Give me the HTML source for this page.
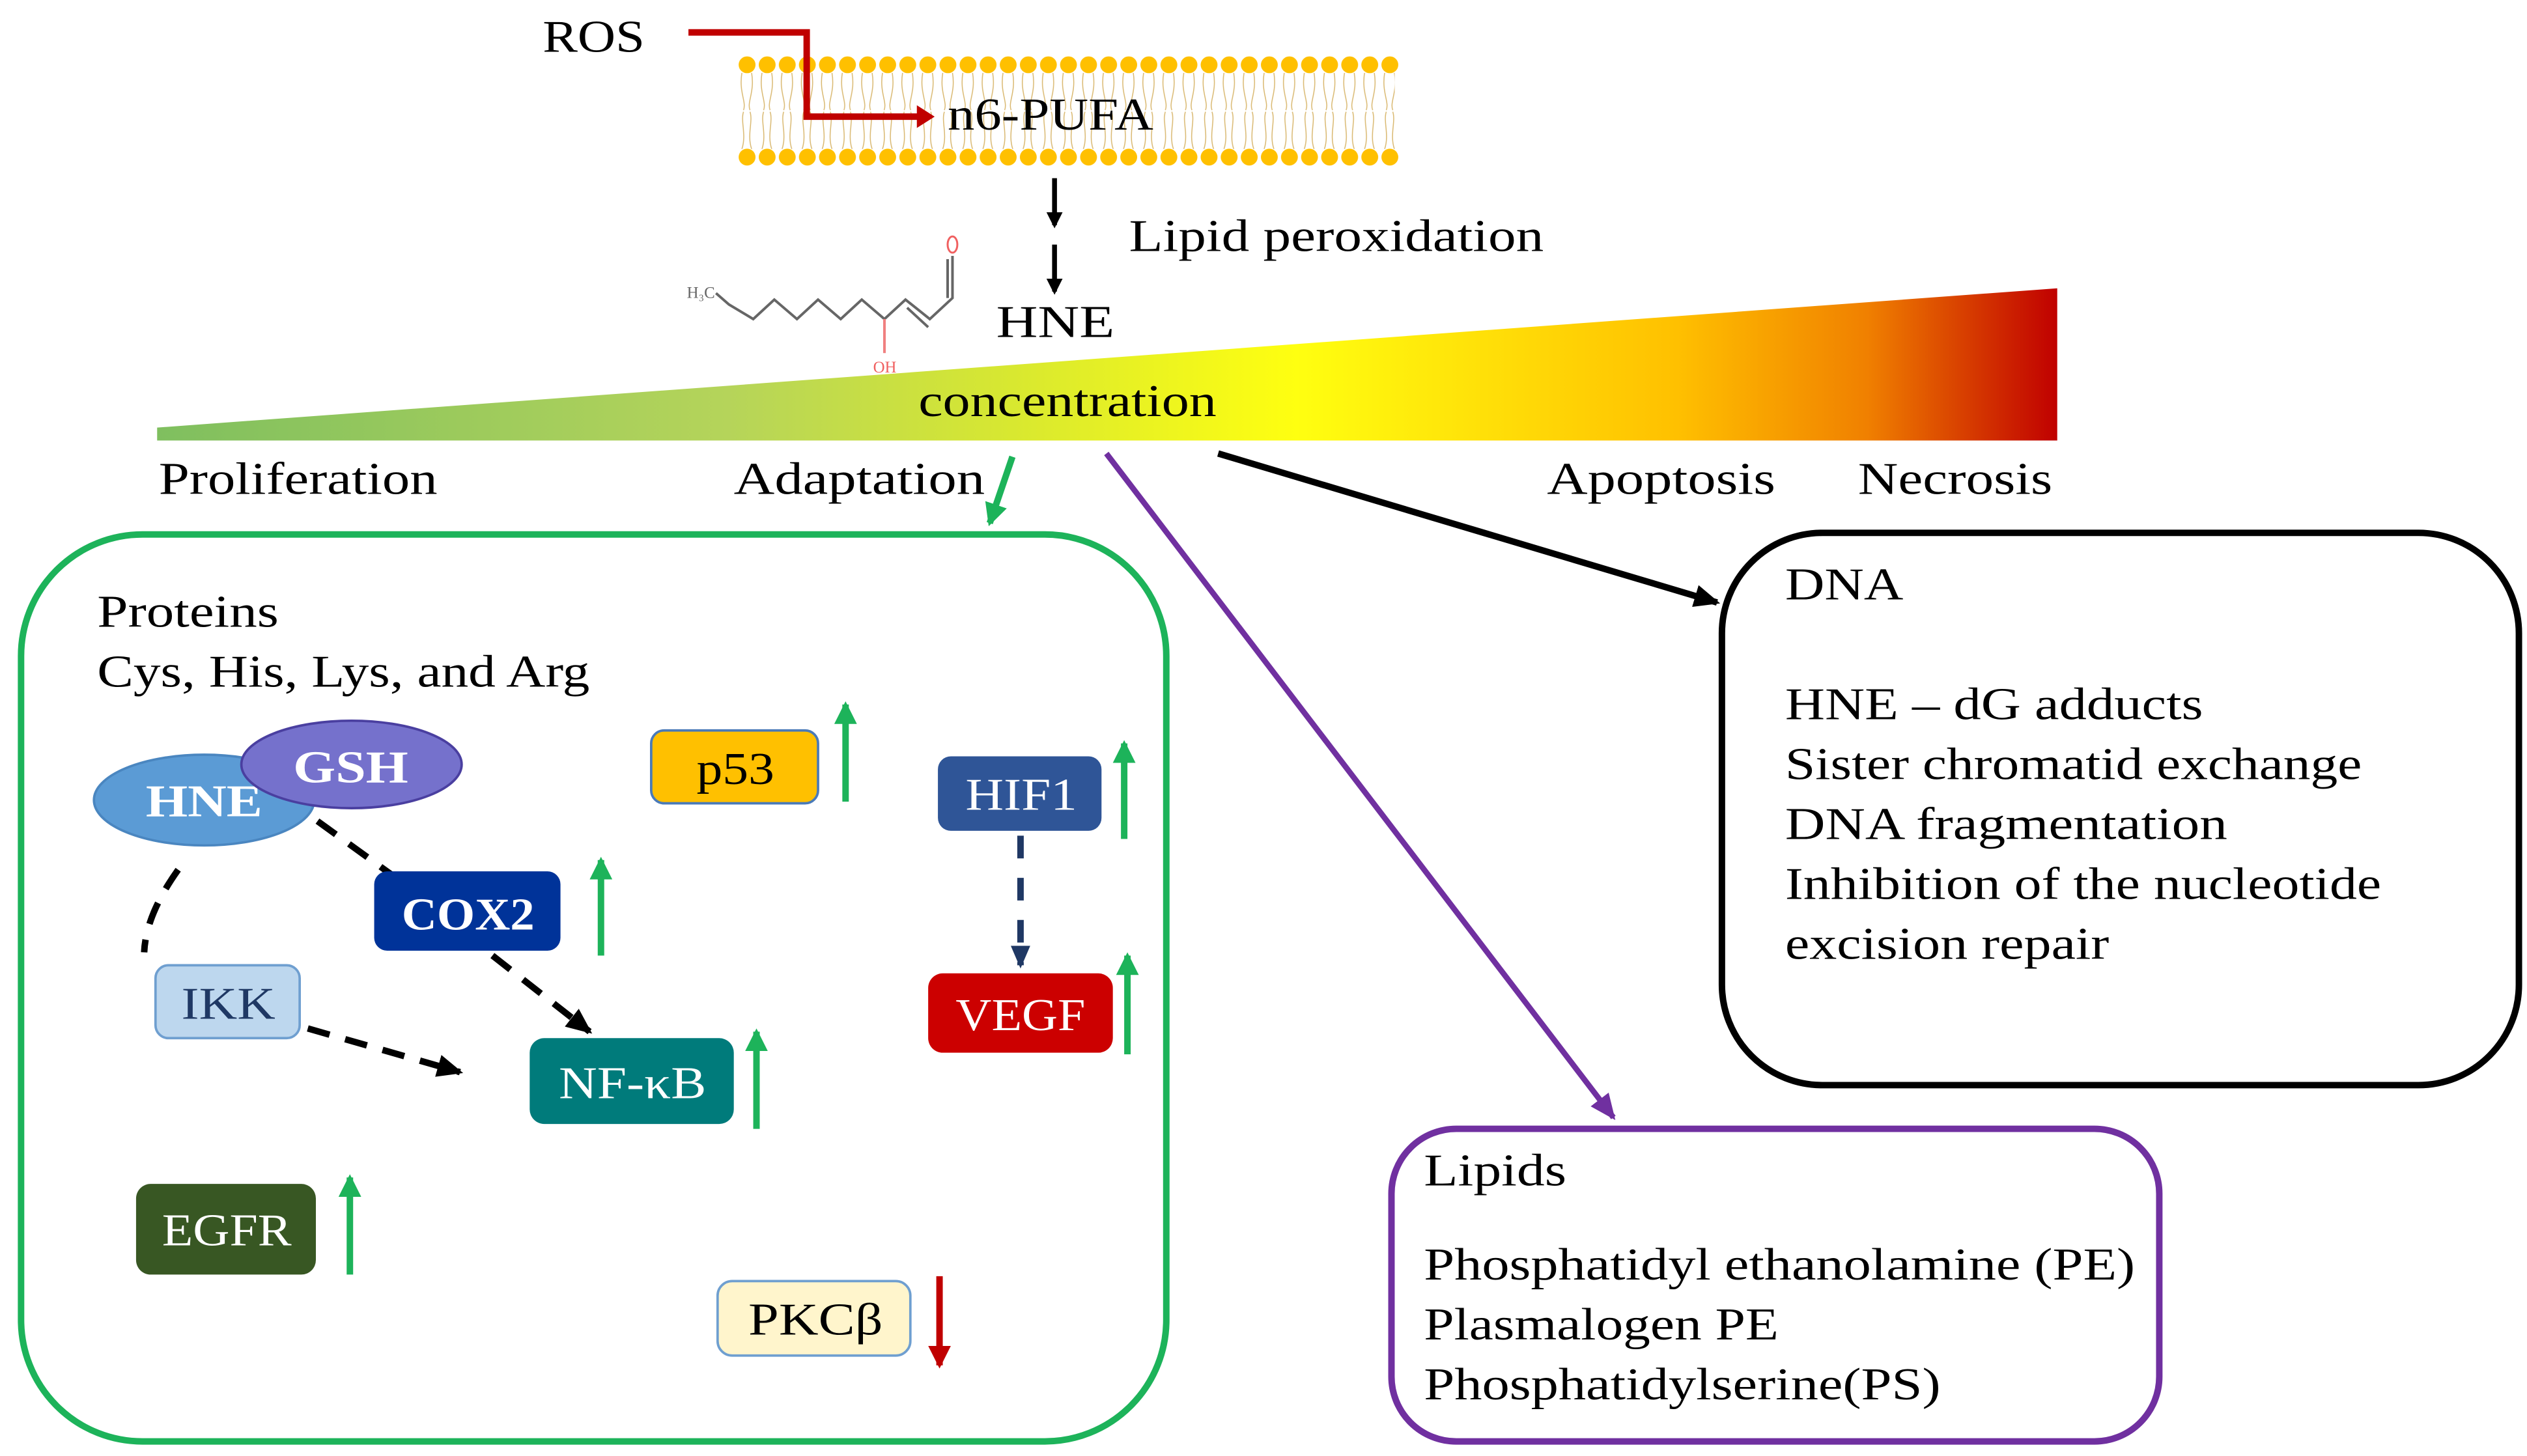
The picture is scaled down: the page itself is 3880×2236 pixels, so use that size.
<!DOCTYPE html>
<html><head><meta charset="utf-8"><style>
html,body{margin:0;padding:0;background:#fff;}
svg{display:block;}
text{font-family:"Liberation Serif",serif;}
</style></head><body>
<svg width="3880" height="2236" viewBox="0 0 1560 899" xmlns="http://www.w3.org/2000/svg">
<defs>
<linearGradient id="wg" x1="97" y1="0" x2="1270" y2="0" gradientUnits="userSpaceOnUse">
<stop offset="0" stop-color="#7fbf5f"/>
<stop offset="0.3" stop-color="#b5d45a"/>
<stop offset="0.45" stop-color="#d8e830"/>
<stop offset="0.6" stop-color="#ffff10"/>
<stop offset="0.8" stop-color="#ffc000"/>
<stop offset="0.9" stop-color="#f08000"/>
<stop offset="1" stop-color="#c00000"/>
</linearGradient>
<pattern id="tails" x="455" y="45" width="12.4" height="47" patternUnits="userSpaceOnUse">
<path d="M3,0 C1,12 6,18 4,23 M9,0 C11,12 6,18 8,23 M4,24 C2,30 6,38 3,47 M8,24 C10,30 6,38 9,47" stroke="#d9b870" stroke-width="0.6" fill="none"/>
</pattern>
<pattern id="dots" x="455" y="0" width="12.4" height="200" patternUnits="userSpaceOnUse">
<circle cx="6.2" cy="40" r="5.2" fill="#ffc000"/>
<circle cx="6.2" cy="97" r="5.2" fill="#ffc000"/>
</pattern>
<marker id="ab" markerWidth="10" markerHeight="10" refX="8" refY="5" orient="auto" markerUnits="userSpaceOnUse"><path d="M0,0 L10,5 L0,10 z" fill="#000"/></marker>
<marker id="abig" markerWidth="16" markerHeight="14" refX="14" refY="7" orient="auto" markerUnits="userSpaceOnUse"><path d="M0,0 L16,7 L0,14 z" fill="#000"/></marker>
<marker id="ap" markerWidth="16" markerHeight="14" refX="14" refY="7" orient="auto" markerUnits="userSpaceOnUse"><path d="M0,0 L16,7 L0,14 z" fill="#7030a0"/></marker>
<marker id="ag" markerWidth="14" markerHeight="14" refX="12" refY="7" orient="auto" markerUnits="userSpaceOnUse"><path d="M0,0 L14,7 L0,14 z" fill="#1db35a"/></marker>
<marker id="ar" markerWidth="14" markerHeight="14" refX="12" refY="7" orient="auto" markerUnits="userSpaceOnUse"><path d="M0,0 L14,7 L0,14 z" fill="#c00000"/></marker>
<marker id="adb" markerWidth="14" markerHeight="12" refX="12" refY="6" orient="auto" markerUnits="userSpaceOnUse"><path d="M0,0 L14,6 L0,12 z" fill="#1f3864"/></marker>
<marker id="ad" markerWidth="16" markerHeight="14" refX="14" refY="7" orient="auto" markerUnits="userSpaceOnUse"><path d="M0,0 L16,7 L0,14 z" fill="#000"/></marker>
</defs>

<rect x="455" y="45" width="406" height="47" fill="url(#tails)"/>
<rect x="455" y="30" width="409" height="75" fill="url(#dots)"/>

<text x="335" y="32" font-size="28" textLength="63" lengthAdjust="spacingAndGlyphs">ROS</text>
<path d="M425,20 L498,20 L498,72 L568,72" stroke="#c00000" stroke-width="4" fill="none"/>
<path d="M566,65 L577,72 L566,79 z" fill="#c00000"/>
<text x="585" y="80" font-size="28" textLength="127" lengthAdjust="spacingAndGlyphs">n6-PUFA</text>

<line x1="651" y1="110" x2="651" y2="139" stroke="#000" stroke-width="3" marker-end="url(#ab)"/>
<line x1="651" y1="151" x2="651" y2="180" stroke="#000" stroke-width="3" marker-end="url(#ab)"/>
<text x="697" y="155" font-size="28" textLength="256" lengthAdjust="spacingAndGlyphs">Lipid peroxidation</text>

<g stroke="#666" stroke-width="1.6" fill="none">
<path d="M442,181 L450,188 L465,197 L478,185 L492,197 L505,185 L519,197 L532,185 L546,197 L559,185 L574,197 L588,184 L588,158"/>
<path d="M560,190 L573,202"/>
<path d="M585,160 L585,184" />
</g>
<line x1="546" y1="197" x2="546" y2="218" stroke="#f08080" stroke-width="1.6"/>
<text x="539" y="230" font-size="10" fill="#f06060" font-family="Liberation Sans,sans-serif">OH</text>
<ellipse cx="588" cy="151" rx="3" ry="5" fill="none" stroke="#f06060" stroke-width="1.2"/>
<text x="424" y="184" font-size="10" fill="#666" font-family="Liberation Sans,sans-serif">H₃C</text>
<text x="615" y="208" font-size="28" textLength="73" lengthAdjust="spacingAndGlyphs">HNE</text>

<polygon points="97,264 1270,178 1270,272 97,272" fill="url(#wg)"/>
<text x="567" y="257" font-size="28" textLength="184" lengthAdjust="spacingAndGlyphs">concentration</text>

<text x="98" y="305" font-size="28" textLength="172" lengthAdjust="spacingAndGlyphs">Proliferation</text>
<text x="453" y="305" font-size="28" textLength="155" lengthAdjust="spacingAndGlyphs">Adaptation</text>
<text x="955" y="305" font-size="28" textLength="141" lengthAdjust="spacingAndGlyphs">Apoptosis</text>
<text x="1147" y="305" font-size="28" textLength="120" lengthAdjust="spacingAndGlyphs">Necrosis</text>

<line x1="625" y1="282" x2="611" y2="323" stroke="#1db35a" stroke-width="4" marker-end="url(#ag)"/>
<line x1="683" y1="280" x2="996" y2="690" stroke="#7030a0" stroke-width="3.5" marker-end="url(#ap)"/>
<line x1="752" y1="280" x2="1060" y2="372" stroke="#000" stroke-width="4" marker-end="url(#ad)"/>

<rect x="13" y="330" width="707" height="560" rx="75" fill="none" stroke="#1db35a" stroke-width="4"/>
<rect x="1063" y="329" width="492" height="341" rx="62" fill="none" stroke="#000" stroke-width="4"/>
<rect x="859" y="697" width="474" height="193" rx="40" fill="none" stroke="#7030a0" stroke-width="4"/>

<text x="60" y="387" font-size="28" textLength="112" lengthAdjust="spacingAndGlyphs">Proteins</text>
<text x="60" y="424" font-size="28" textLength="304" lengthAdjust="spacingAndGlyphs">Cys, His, Lys, and Arg</text>

<g stroke="#000" stroke-width="4" fill="none" stroke-dasharray="14,10">
<path d="M196,507 L243,541"/>
<path d="M110,537 Q90,565 89,588"/>
<path d="M190,635 L284,662" marker-end="url(#abig)"/>
<path d="M304,590 L364,637" marker-end="url(#abig)"/>
</g>

<ellipse cx="126" cy="494" rx="68" ry="28" fill="#5b9bd5" stroke="#4a86c0" stroke-width="1.5"/>
<text x="90" y="504" font-size="28" fill="#fff" font-weight="bold" textLength="72" lengthAdjust="spacingAndGlyphs">HNE</text>
<ellipse cx="217" cy="472" rx="68" ry="27" fill="#7571cc" stroke="#4a3fa0" stroke-width="1.5"/>
<text x="181" y="483" font-size="28" fill="#fff" font-weight="bold" textLength="71" lengthAdjust="spacingAndGlyphs">GSH</text>

<rect x="402" y="451" width="103" height="45" rx="8" fill="#ffc000" stroke="#4a7ab8" stroke-width="1.5"/>
<text x="430" y="484" font-size="28" textLength="48" lengthAdjust="spacingAndGlyphs">p53</text>
<line x1="522" y1="495" x2="522" y2="435" stroke="#1db35a" stroke-width="4" marker-end="url(#ag)"/>

<rect x="579" y="467" width="101" height="46" rx="8" fill="#2f5597"/>
<text x="596" y="500" font-size="28" fill="#fff" textLength="69" lengthAdjust="spacingAndGlyphs">HIF1</text>
<line x1="694" y1="518" x2="694" y2="459" stroke="#1db35a" stroke-width="4" marker-end="url(#ag)"/>
<line x1="630" y1="516" x2="630" y2="596" stroke="#1f3864" stroke-width="4" stroke-dasharray="14,12" marker-end="url(#adb)"/>

<rect x="573" y="601" width="114" height="49" rx="9" fill="#cc0000"/>
<text x="590" y="636" font-size="28" fill="#fff" textLength="80" lengthAdjust="spacingAndGlyphs">VEGF</text>
<line x1="696" y1="651" x2="696" y2="590" stroke="#1db35a" stroke-width="4" marker-end="url(#ag)"/>

<rect x="231" y="538" width="115" height="49" rx="8" fill="#003399"/>
<text x="248" y="574" font-size="28" fill="#fff" font-weight="bold" textLength="82" lengthAdjust="spacingAndGlyphs">COX2</text>
<line x1="371" y1="590" x2="371" y2="531" stroke="#1db35a" stroke-width="4" marker-end="url(#ag)"/>

<rect x="96" y="596" width="89" height="45" rx="8" fill="#bdd7ee" stroke="#6f9fd0" stroke-width="1.5"/>
<text x="112" y="629" font-size="28" fill="#1f3864" textLength="58" lengthAdjust="spacingAndGlyphs">IKK</text>

<rect x="327" y="641" width="126" height="53" rx="9" fill="#007b7b"/>
<text x="345" y="678" font-size="28" fill="#fff" textLength="91" lengthAdjust="spacingAndGlyphs">NF-κB</text>
<line x1="467" y1="697" x2="467" y2="637" stroke="#1db35a" stroke-width="4" marker-end="url(#ag)"/>

<rect x="84" y="731" width="111" height="56" rx="9" fill="#385723"/>
<text x="100" y="769" font-size="28" fill="#fff" textLength="80" lengthAdjust="spacingAndGlyphs">EGFR</text>
<line x1="216" y1="787" x2="216" y2="727" stroke="#1db35a" stroke-width="4" marker-end="url(#ag)"/>

<rect x="443" y="791" width="119" height="46" rx="9" fill="#fff5cc" stroke="#6f9fd0" stroke-width="1.5"/>
<text x="462" y="824" font-size="28" textLength="83" lengthAdjust="spacingAndGlyphs">PKCβ</text>
<line x1="580" y1="788" x2="580" y2="843" stroke="#c00000" stroke-width="4" marker-end="url(#ar)"/>

<g font-size="28">
<text x="1102" y="370" textLength="73" lengthAdjust="spacingAndGlyphs">DNA</text>
<text x="1102" y="444" textLength="258" lengthAdjust="spacingAndGlyphs">HNE – dG adducts</text>
<text x="1102" y="481" textLength="356" lengthAdjust="spacingAndGlyphs">Sister chromatid exchange</text>
<text x="1102" y="518" textLength="273" lengthAdjust="spacingAndGlyphs">DNA fragmentation</text>
<text x="1102" y="555" textLength="368" lengthAdjust="spacingAndGlyphs">Inhibition of the nucleotide</text>
<text x="1102" y="592" textLength="200" lengthAdjust="spacingAndGlyphs">excision repair</text>
<text x="879" y="732" textLength="88" lengthAdjust="spacingAndGlyphs">Lipids</text>
<text x="879" y="790" textLength="439" lengthAdjust="spacingAndGlyphs">Phosphatidyl ethanolamine (PE)</text>
<text x="879" y="827" textLength="219" lengthAdjust="spacingAndGlyphs">Plasmalogen PE</text>
<text x="879" y="864" textLength="319" lengthAdjust="spacingAndGlyphs">Phosphatidylserine(PS)</text>
</g>
</svg>
</body></html>
